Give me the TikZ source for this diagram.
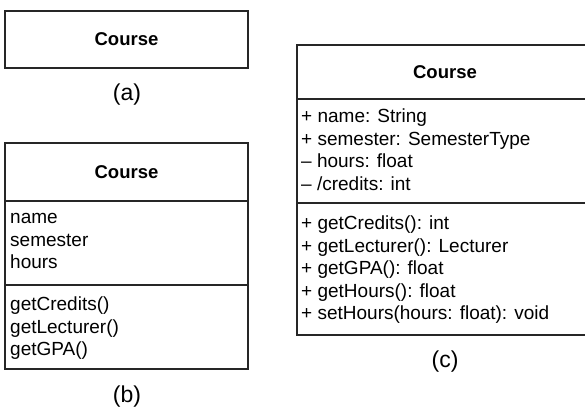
\documentclass[tikz,border=0pt]{standalone}
\usepackage{fontspec}
\setmainfont{Liberation Sans}
\begin{document}
\begin{tikzpicture}[x=1pt,y=-1pt,
  umlbox/.style={draw=black!85, line width=1.3pt, inner sep=0pt},
  divider/.style={draw=black!85, line width=1.3pt},
  ttl/.style={font=\fontsize{18.5}{20}\selectfont\bfseries, inner sep=0pt},
  item/.style={anchor=mid west, inner sep=0pt, font=\fontsize{19}{22}\selectfont},
  captxt/.style={font=\fontsize{23}{26}\selectfont, inner sep=0pt}]
\useasboundingbox (0,0) rectangle (585,408);
\clip (0,0) rectangle (585,408);
% (a)
\node[umlbox, minimum width=243pt, minimum height=57pt] (A) at (126.5,39.5) {};
\node[ttl] (At) at (A.center) {Course};
\node[captxt] (Acap) at (127,95) {(a)};
% (b)
\node[umlbox, minimum width=243pt, minimum height=226pt] (B) at (126.5,256) {};
\node[ttl] (Bt) at (126.5,172) {Course};
\coordinate (b1l) at (5,201); \coordinate (b1r) at (248,201);
\coordinate (b2l) at (5,285); \coordinate (b2r) at (248,285);
\draw[divider] (b1l) -- (b1r);
\draw[divider] (b2l) -- (b2r);
\node[item] (Ba1) at (10,221) {name};
\node[item] (Ba2) at (10,243.5) {semester};
\node[item] (Ba3) at (10,266) {hours};
\node[item] (Bm1) at (10,308) {getCredits()};
\node[item] (Bm2) at (10,330.5) {getLecturer()};
\node[item] (Bm3) at (10,353) {getGPA()};
\node[captxt] (Bcap) at (127,397) {(b)};
% (c)
\node[umlbox, minimum width=296pt, minimum height=290pt] (C) at (445,190) {};
\node[ttl] (Ct) at (445,72) {Course};
\coordinate (c1l) at (297,99); \coordinate (c1r) at (593,99);
\coordinate (c2l) at (297,203); \coordinate (c2r) at (593,203);
\draw[divider] (c1l) -- (c1r);
\draw[divider] (c2l) -- (c2r);
\node[item] (Ca1) at (301,120) {+ name: String};
\node[item] (Ca2) at (301,142.5) {+ semester: SemesterType};
\node[item] (Ca3) at (301,165) {– hours: float};
\node[item] (Ca4) at (301,187.5) {– /credits: int};
\node[item] (Cm1) at (301,227) {+ getCredits(): int};
\node[item] (Cm2) at (301,249.5) {+ getLecturer(): Lecturer};
\node[item] (Cm3) at (301,272) {+ getGPA(): float};
\node[item] (Cm4) at (301,294.5) {+ getHours(): float};
\node[item] (Cm5) at (301,317) {+ setHours(hours: float): void};
\node[captxt] (Ccap) at (445,362) {(c)};
\end{tikzpicture}
\end{document}
